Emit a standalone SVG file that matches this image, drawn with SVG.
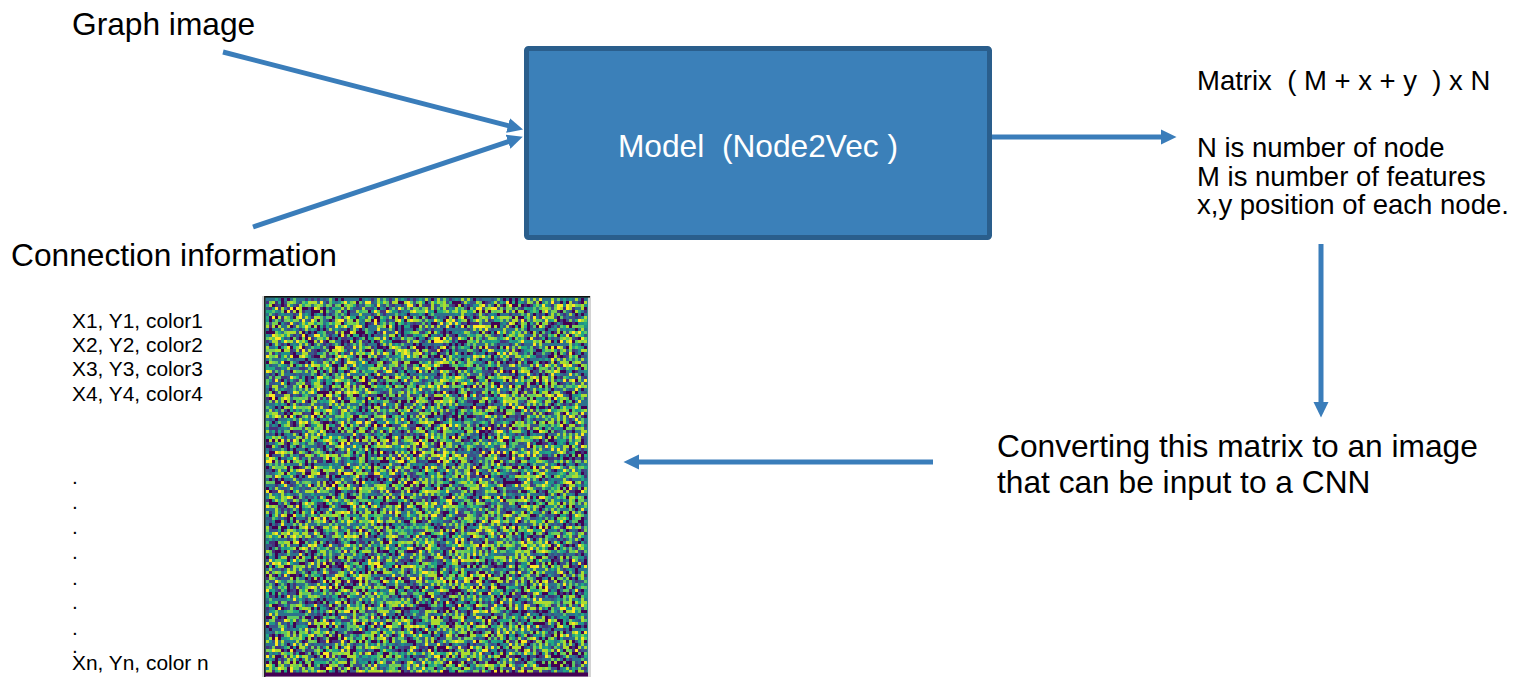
<svg xmlns="http://www.w3.org/2000/svg" width="1517" height="689" viewBox="0 0 1517 689">
<style>
.t{font-family:"Liberation Sans",Arial,sans-serif;fill:#000}
.big{font-size:31.7px}
.mid{font-size:27.5px}
.sm{font-size:20.9px}
.conn{stroke:#3a7dba;stroke-width:5;fill:none}
</style>
<defs>
<marker id="ah" markerUnits="userSpaceOnUse" markerWidth="16" markerHeight="16" viewBox="0 0 16 16" refX="1" refY="8" orient="auto">
<path d="M0,0.5 L15.5,8 L0,15.5 z" fill="#3a7dba"/>
</marker>
<filter id="noise" x="266" y="298" width="322" height="375" filterUnits="userSpaceOnUse" primitiveUnits="userSpaceOnUse" color-interpolation-filters="sRGB">
<feTurbulence type="fractalNoise" baseFrequency="0.5 0.2" numOctaves="2" seed="7" result="n"/>
<feColorMatrix in="n" type="matrix" values="3.3 0 0 0 -1.15  3.3 0 0 0 -1.15  3.3 0 0 0 -1.15  0 0 0 0 1" result="s"/>
<feComponentTransfer in="s" result="c">
<feFuncR type="discrete" tableValues="0.267 0.231 0.478 0.129 0.369 0.173 0.275 0.133 0.992 0.231 0.678"/>
<feFuncG type="discrete" tableValues="0.004 0.322 0.820 0.569 0.788 0.447 0.200 0.659 0.906 0.322 0.863"/>
<feFuncB type="discrete" tableValues="0.329 0.545 0.318 0.549 0.384 0.557 0.494 0.518 0.145 0.545 0.188"/>
</feComponentTransfer>
<feFlood x="267" y="299" width="1" height="1" flood-color="#000" result="dot"/>
<feComposite in="dot" x="266" y="298" width="3" height="3" result="cell"/>
<feTile in="cell" x="266" y="298" width="322" height="375" result="grid"/>
<feComposite in="c" in2="grid" operator="in" result="samp"/>
<feMorphology in="samp" operator="dilate" radius="1"/>
</filter>
</defs>
<rect width="1517" height="689" fill="#fff"/>

<g id="graph-image-label"><text class="t big" x="72" y="35">Graph image</text></g>
<g id="connection-info-label"><text class="t big" x="11" y="266">Connection information</text></g>

<g id="model">
<rect x="526.5" y="48.5" width="463" height="189" rx="2" fill="#3b80b9" stroke="#2a5e8c" stroke-width="5"/>
<text x="758" y="157" text-anchor="middle" font-family="Liberation Sans, Arial, sans-serif" font-size="31.7" fill="#fff" xml:space="preserve">Model  (Node2Vec )</text>
</g>

<g id="matrix-desc">
<text class="t mid" x="1197" y="90" xml:space="preserve">Matrix  ( M + x + y  ) x N</text>
<text class="t mid" x="1197" y="157">N is number of node</text>
<text class="t mid" x="1197" y="186">M is number of features</text>
<text class="t mid" x="1197" y="214">x,y position of each node.</text>
</g>

<g id="convert-label">
<text class="t big" x="997" y="457">Converting this matrix to an image</text>
<text class="t big" x="997" y="493">that can be input to a CNN</text>
</g>

<g id="coord-list">
<text class="t sm" x="72" y="328">X1, Y1, color1</text>
<text class="t sm" x="72" y="352">X2, Y2, color2</text>
<text class="t sm" x="72" y="376">X3, Y3, color3</text>
<text class="t sm" x="72" y="401">X4, Y4, color4</text>
<text class="t sm" x="72" y="484">.</text>
<text class="t sm" x="72" y="509">.</text>
<text class="t sm" x="72" y="534">.</text>
<text class="t sm" x="72" y="559">.</text>
<text class="t sm" x="72" y="585">.</text>
<text class="t sm" x="72" y="609">.</text>
<text class="t sm" x="72" y="635">.</text>
<text class="t sm" x="72" y="653">.</text>
<text class="t sm" x="72" y="670">Xn, Yn, color n</text>
</g>

<g id="cnn-image">
<rect x="262" y="296" width="329" height="381" fill="#d4d4d4"/>
<rect x="265" y="297" width="323" height="379" fill="#2a8a8a"/>
<rect x="266" y="298" width="322" height="375" fill="#2a8a8a" filter="url(#noise)"/>
<rect x="264" y="296" width="326" height="1.6" fill="#111"/>
<rect x="264" y="296" width="1.5" height="381" fill="#222"/>
<rect x="265" y="672.5" width="323" height="4" fill="#440154"/>
</g>

<g id="connectors">
<line class="conn" x1="223" y1="52" x2="509" y2="125.8" marker-end="url(#ah)"/>
<line class="conn" x1="253" y1="227" x2="509" y2="141.4" marker-end="url(#ah)"/>
<line class="conn" x1="992" y1="137" x2="1162" y2="137" marker-end="url(#ah)"/>
<line class="conn" x1="1321" y1="244" x2="1321" y2="403" marker-end="url(#ah)"/>
<line class="conn" x1="933" y1="462" x2="638" y2="462" marker-end="url(#ah)"/>
</g>
</svg>
